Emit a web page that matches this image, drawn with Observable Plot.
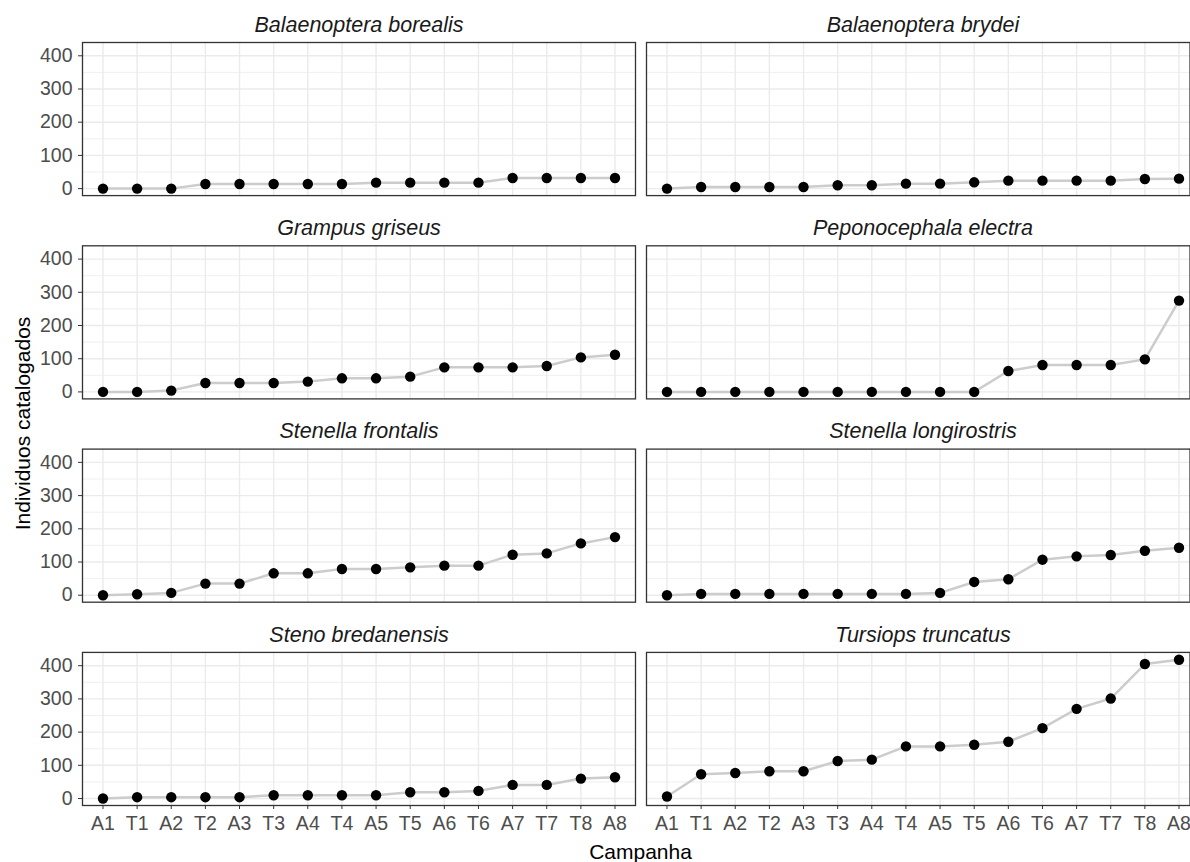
<!DOCTYPE html>
<html><head><meta charset="utf-8">
<script src="https://cdn.jsdelivr.net/npm/d3@7"></script>
<script src="https://cdn.jsdelivr.net/npm/@observablehq/plot@0.6"></script>
<style>
html,body{margin:0;padding:0;background:#fff;overflow:hidden}
#chart svg{display:block}
</style>
</head><body><div id="chart"></div>
<script>
// ---- data ----
const campaigns = ["A1","T1","A2","T2","A3","T3","A4","T4","A5","T5","A6","T6","A7","T7","T8","A8"];
const speciesNames = [
  "Balaenoptera borealis", "Balaenoptera brydei",
  "Grampus griseus", "Peponocephala electra",
  "Stenella frontalis", "Stenella longirostris",
  "Steno bredanensis", "Tursiops truncatus"
];
const borealis      = [0,0,0,14,14,14,14,14,18,18,18,18,32,32,32,32];
const brydei        = [0,5,5,5,5,10,10,15,15,19,24,24,24,24,29,30];
const grampus       = [0,0,4,27,27,27,31,41,41,46,74,74,74,78,104,112];
const peponocephala = [0,0,0,0,0,0,0,0,0,0,63,81,81,81,98,275];
const frontalis     = [0,3,7,35,35,66,66,79,79,84,89,89,122,126,156,175];
const longirostris  = [0,4,4,4,4,4,4,4,7,40,48,107,117,121,134,143];
const steno         = [0,4,4,4,4,10,10,10,10,19,19,23,41,41,60,64];
const tursiops      = [6,73,77,82,82,113,117,157,157,162,171,212,270,301,405,418];
const yTicks = [0,100,200,300,400];
const yMinor = [50,150,250,350];
const yTitle = "Individuos catalogados";
const xTitle = "Campanha";

const seriesList = [borealis, brydei, grampus, peponocephala, frontalis, longirostris, steno, tursiops];
const panels = speciesNames.map((s, i) => ({species: s, col: i % 2, row: Math.floor(i / 2)}));
const rows = panels.flatMap((p, i) => campaigns.map((c, j) => ({
  species: p.species, col: p.col, row: p.row, campaign: c, value: seriesList[i][j]
})));
const rightPanels = panels.filter(p => p.col === 1);
const lastCampaign = campaigns[campaigns.length - 1];

const tickFont = "'Liberation Sans', Arial, sans-serif";
const textFont = "'Liberation Sans', Arial, sans-serif";

const W = 1190, H = 862;
const chart = Plot.plot({
  width: W,
  height: H,
  marginLeft: 82,
  marginRight: -9,
  marginTop: 42,
  marginBottom: 57,
  style: {fontFamily: textFont, fontSize: "20px", background: "#fff", overflow: "visible"},
  fx: {domain: [0, 1], paddingInner: 0.0195, paddingOuter: 0, round: false, axis: null, label: null},
  fy: {domain: [0, 1, 2, 3], paddingInner: 0.247, paddingOuter: 0, round: false, axis: null, label: null},
  x: {type: "point", domain: campaigns, padding: 0.6, round: false, label: null},
  y: {domain: [-21, 440], label: null},
  marks: [
    Plot.gridY(yMinor, {stroke: "#ebebeb", strokeOpacity: 1, strokeWidth: 0.8}),
    Plot.gridY(yTicks, {stroke: "#ebebeb", strokeOpacity: 1, strokeWidth: 1.4}),
    Plot.gridX(campaigns, {stroke: "#ebebeb", strokeOpacity: 1, strokeWidth: 1.4}),
    Plot.line(rows, {x: "campaign", y: "value", fx: "col", fy: "row", z: "species", stroke: "#cccccc", strokeWidth: 2.5}),
    Plot.dot(rows, {x: "campaign", y: "value", fx: "col", fy: "row", r: 5.2, fill: "#000", stroke: null}),
    Plot.frame({stroke: "#333333", strokeWidth: 1.3}),
    // right edge of the right-hand panels, where the reference image is trimmed
    Plot.ruleX(rightPanels, {x: () => lastCampaign, fx: "col", fy: "row", dx: 11, stroke: "#333333", strokeWidth: 1.3}),
    Plot.axisY({ticks: yTicks, tickSize: 4, tickPadding: 6, stroke: "#333333", fill: "#4d4d4d",
      fontSize: 19.5, fontFamily: tickFont, label: null}),
    Plot.axisX({tickSize: 4, tickPadding: 7, stroke: "#333333", fill: "#4d4d4d",
      fontSize: 19.5, fontFamily: tickFont, label: null}),
    Plot.text(panels, {fx: "col", fy: "row", text: "species", frameAnchor: "top", lineAnchor: "top",
      dy: -26, fontStyle: "italic", fontSize: 21.5, fontFamily: textFont, fill: "#1a1a1a"})
  ]
});
document.getElementById("chart").appendChild(chart);

const svg = d3.select(chart);
svg.append("text")
  .attr("transform", `translate(30, ${(42 + 805) / 2}) rotate(-90)`)
  .attr("text-anchor", "middle")
  .attr("font-family", textFont)
  .attr("font-size", 21)
  .attr("fill", "#000")
  .text(yTitle);
svg.append("text")
  .attr("x", (82 + 1199) / 2)
  .attr("y", 859)
  .attr("text-anchor", "middle")
  .attr("font-family", textFont)
  .attr("font-size", 21)
  .attr("fill", "#000")
  .text(xTitle);
</script>
</body></html>
